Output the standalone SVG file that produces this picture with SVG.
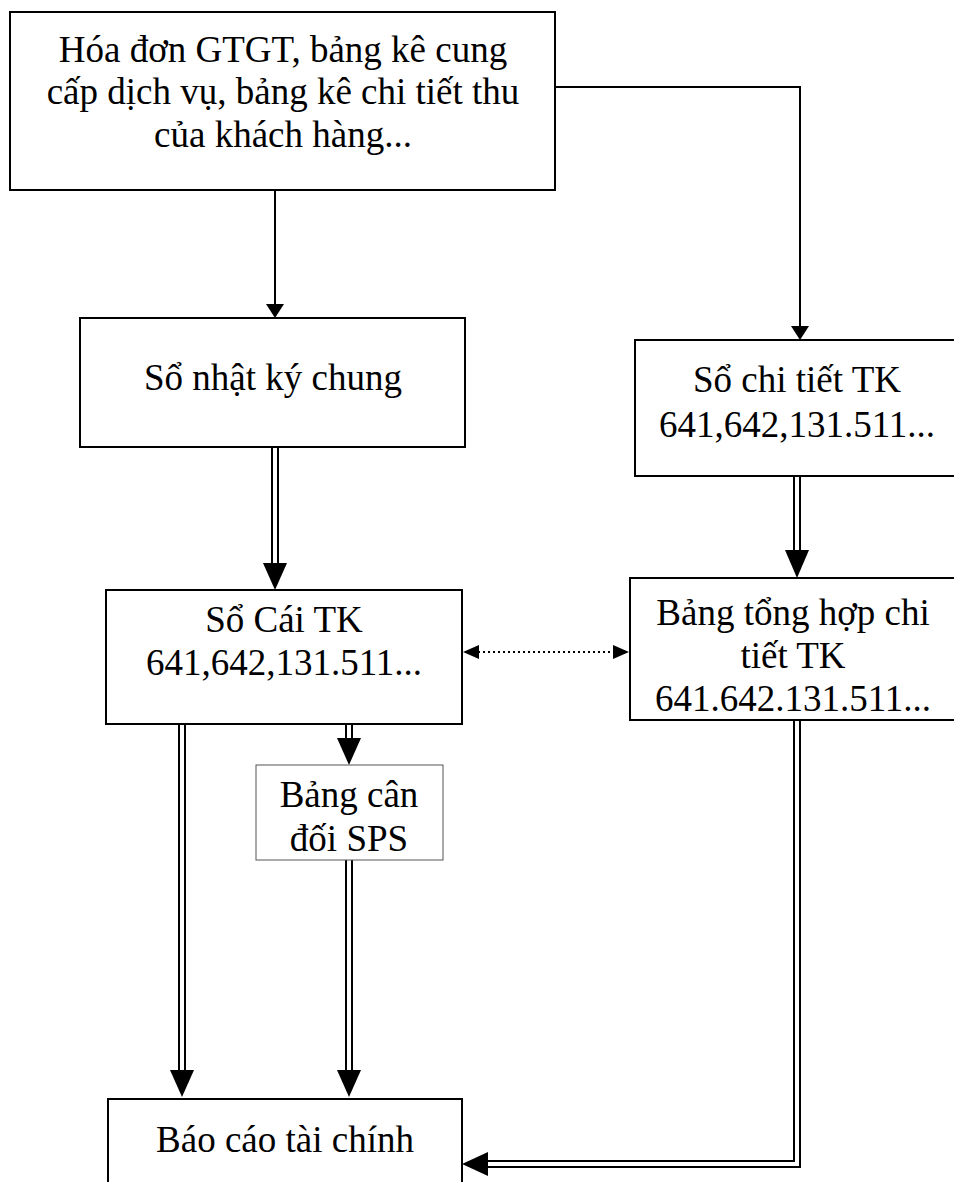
<svg xmlns="http://www.w3.org/2000/svg" width="954" height="1182" viewBox="0 0 954 1182">
<style>
.box{fill:#fff;stroke:#000;stroke-width:2}
.thin{fill:#fff;stroke:#555;stroke-width:1}
.t{font-family:"Liberation Serif","Times New Roman",serif;font-size:37px;fill:#000;text-anchor:middle}
.ln{fill:none;stroke:#000;stroke-width:2}
.dbl{fill:none;stroke:#000;stroke-width:2}
.dot{fill:none;stroke:#000;stroke-width:2;stroke-dasharray:2 3}
</style>
<defs>
<marker id="ah" viewBox="0 0 10 10" refX="10" refY="5" markerWidth="7" markerHeight="7" markerUnits="userSpaceOnUse" orient="auto"><path d="M0,0L10,5L0,10z" fill="#000"/></marker>
</defs>
<rect width="954" height="1182" fill="#fff"/>
<g id="connectors">
<path class="ln" d="M275,190V312"/>
<path d="M266,304L284,304L275,318z" fill="#000"/>
<path class="ln" d="M555,87H800V332"/>
<path d="M791,326L809,326L800,340z" fill="#000"/>
<path class="dbl" d="M272,447V566M278,447V566"/>
<path d="M263,563L287,563L275,590z" fill="#000"/>
<path class="dbl" d="M794,476V552M800,476V552"/>
<path d="M785,550L809,550L797,578z" fill="#000"/>
<path class="dot" d="M478,652H614"/>
<path d="M463,652L479,645L479,659z" fill="#000"/>
<path d="M629,652L613,645L613,659z" fill="#000"/>
<path class="dbl" d="M179,724V1072M185,724V1072"/>
<path d="M170,1070L194,1070L182,1097z" fill="#000"/>
<path class="dbl" d="M346,724V740M352,724V740"/>
<path d="M337,738L361,738L349,765z" fill="#000"/>
<path class="dbl" d="M346,860V1072M352,860V1072"/>
<path d="M337,1070L361,1070L349,1097z" fill="#000"/>
<path class="dbl" d="M794,720V1161H486M800,720V1167H486"/>
<path d="M462,1164L488,1152L488,1176z" fill="#000"/>
</g>
<g id="n1"><rect class="box" x="10" y="12" width="545" height="178"/>
<text class="t" x="283" y="62">Hóa đơn GTGT, bảng kê cung</text>
<text class="t" x="283" y="104">cấp dịch vụ, bảng kê chi tiết thu</text>
<text class="t" x="283" y="147">của khách hàng...</text></g>
<g id="n2"><rect class="box" x="80" y="318" width="385" height="129"/>
<text class="t" x="273" y="390">Sổ nhật ký chung</text></g>
<g id="n3"><rect class="box" x="635" y="340" width="325" height="136"/>
<text class="t" x="797" y="392">Sổ chi tiết TK</text>
<text class="t" x="797" y="437">641,642,131.511...</text></g>
<g id="n4"><rect class="box" x="106" y="590" width="356" height="134"/>
<text class="t" x="284" y="632">Sổ Cái TK</text>
<text class="t" x="284" y="675">641,642,131.511...</text></g>
<g id="n5"><rect class="box" x="630" y="578" width="330" height="142"/>
<text class="t" x="793" y="625">Bảng tổng hợp chi</text>
<text class="t" x="793" y="668">tiết TK</text>
<text class="t" x="793" y="711">641.642.131.511...</text></g>
<g id="n6"><rect class="thin" x="256" y="765" width="187" height="95"/>
<text class="t" x="349" y="807">Bảng cân</text>
<text class="t" x="349" y="851">đối SPS</text></g>
<g id="n7"><rect class="box" x="108" y="1099" width="354" height="100"/>
<text class="t" x="285" y="1152">Báo cáo tài chính</text></g>
</svg>
